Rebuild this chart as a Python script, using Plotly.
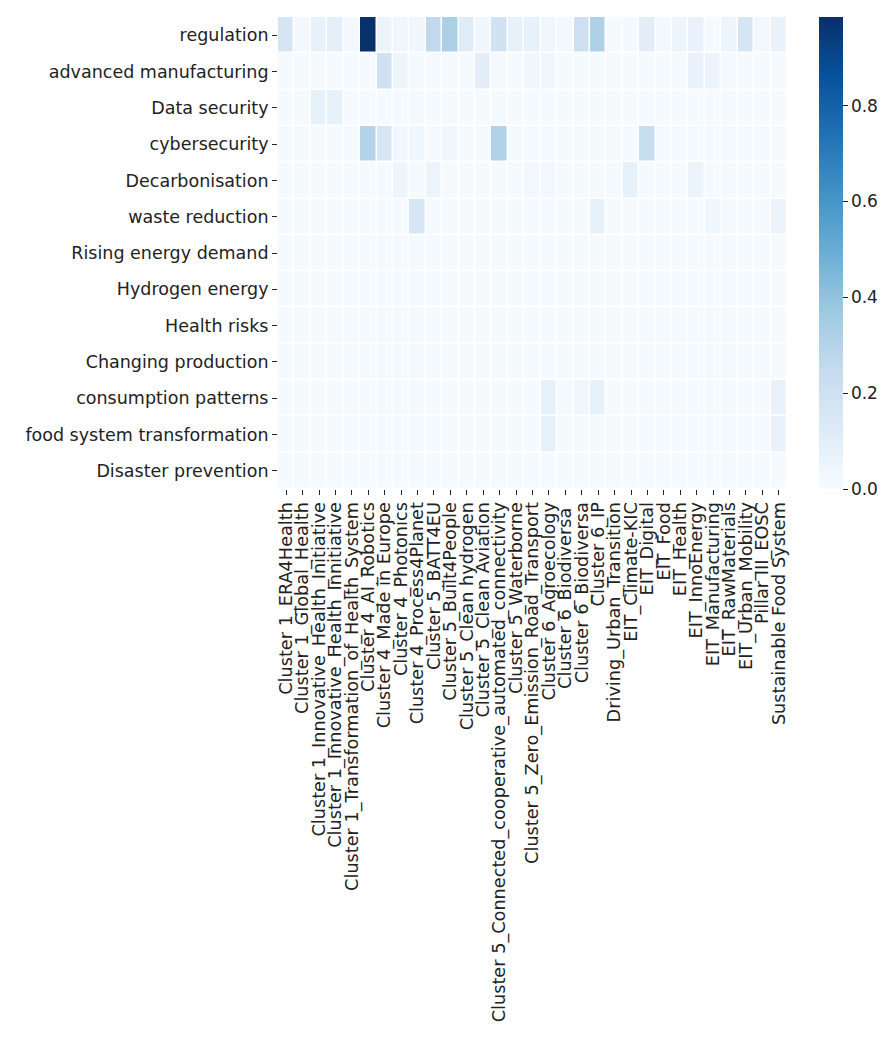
import plotly.graph_objects as go

topics = ["regulation", "advanced manufacturing", "Data security", "cybersecurity",
          "Decarbonisation", "waste reduction", "Rising energy demand", "Hydrogen energy",
          "Health risks", "Changing production", "consumption patterns",
          "food system transformation", "Disaster prevention"]

programmes = ["Cluster 1_ERA4Health", "Cluster 1_Global_Health",
              "Cluster 1_Innovative_Health_Initiative", "Cluster 1_Innovative_Health_Innitiative",
              "Cluster 1_Transformation_of_Health_System", "Cluster 4_AI_Robotics",
              "Cluster 4_Made in Europe", "Cluster 4_Photonics", "Cluster 4_Process4Planet",
              "Cluster 5_BATT4EU", "Cluster 5_Built4People", "Cluster 5_Clean hydrogen",
              "Cluster 5_Clean Aviation", "Cluster 5_Connected_cooperative_automated_connectivity",
              "Cluster 5_Waterborne", "Cluster 5_Zero_Emission_Road_Transport",
              "Cluster 6_Agroecology", "Cluster 6_Biodiversa\u00a0", "Cluster 6_Biodiversa",
              "Cluster 6_IP", "Driving_Urban_Transition", "EIT_Climate-KIC", "EIT_Digital",
              "EIT_Food", "EIT_Health", "EIT_InnoEnergy", "EIT_Manufacturing",
              "EIT_RawMaterials", "EIT_Urban_Mobility", "Pillar III_EOSC",
              "Sustainable Food System"]

regulation = [0.17, 0.02, 0.08, 0.09, 0.02, 0.985, 0.06, 0.04, 0.04, 0.26, 0.33, 0.12, 0.04, 0.19, 0.08, 0.08,
              0.04, 0.02, 0.21, 0.32, 0.01, 0.02, 0.10, 0.02, 0.05, 0.07, 0.01, 0.05, 0.17, 0.03, 0.07]
advanced_manufacturing = [0.01, 0.01, 0.01, 0.01, 0.01, 0.01, 0.20, 0.05, 0.01, 0.01, 0.01, 0.01, 0.10, 0.01, 0.01, 0.04,
                          0.04, 0.01, 0.01, 0.01, 0.01, 0.01, 0.01, 0.01, 0.01, 0.07, 0.06, 0.01, 0.01, 0.01, 0.01]
data_security = [0.01, 0.01, 0.08, 0.08, 0.01, 0.01, 0.01, 0.01, 0.01, 0.01, 0.01, 0.01, 0.01, 0.01, 0.01, 0.01,
                 0.01, 0.01, 0.01, 0.01, 0.01, 0.01, 0.01, 0.01, 0.01, 0.01, 0.01, 0.01, 0.01, 0.01, 0.01]
cybersecurity = [0.01, 0.01, 0.01, 0.01, 0.01, 0.30, 0.17, 0.03, 0.04, 0.01, 0.04, 0.01, 0.01, 0.31, 0.01, 0.01,
                 0.01, 0.01, 0.01, 0.01, 0.01, 0.01, 0.23, 0.01, 0.01, 0.01, 0.01, 0.01, 0.01, 0.01, 0.01]
decarbonisation = [0.01, 0.01, 0.01, 0.01, 0.01, 0.01, 0.01, 0.05, 0.01, 0.05, 0.01, 0.01, 0.01, 0.01, 0.01, 0.03,
                   0.03, 0.01, 0.01, 0.01, 0.01, 0.08, 0.01, 0.01, 0.01, 0.06, 0.01, 0.01, 0.01, 0.01, 0.01]
waste_reduction = [0.01, 0.01, 0.01, 0.01, 0.01, 0.01, 0.01, 0.01, 0.16, 0.01, 0.01, 0.01, 0.01, 0.01, 0.01, 0.01,
                   0.01, 0.01, 0.01, 0.08, 0.01, 0.01, 0.01, 0.01, 0.01, 0.01, 0.04, 0.01, 0.01, 0.01, 0.06]
rising_energy_demand = [0.01] * 31
hydrogen_energy = [0.01] * 31
health_risks = [0.01] * 31
changing_production = [0.01] * 31
consumption_patterns = [0.01, 0.01, 0.01, 0.01, 0.01, 0.01, 0.01, 0.01, 0.01, 0.01, 0.01, 0.01, 0.01, 0.01, 0.01, 0.01,
                        0.08, 0.01, 0.04, 0.08, 0.01, 0.01, 0.01, 0.01, 0.01, 0.01, 0.01, 0.01, 0.01, 0.01, 0.07]
food_system_transformation = [0.01, 0.01, 0.01, 0.01, 0.01, 0.01, 0.01, 0.01, 0.01, 0.01, 0.01, 0.01, 0.01, 0.01, 0.01, 0.01,
                              0.08, 0.01, 0.01, 0.01, 0.01, 0.01, 0.01, 0.01, 0.01, 0.01, 0.01, 0.01, 0.01, 0.01, 0.07]
disaster_prevention = [0.01] * 31

values = [regulation, advanced_manufacturing, data_security, cybersecurity, decarbonisation,
          waste_reduction, rising_energy_demand, hydrogen_energy, health_risks,
          changing_production, consumption_patterns, food_system_transformation,
          disaster_prevention]

colorbar_ticks = [0.0, 0.2, 0.4, 0.6, 0.8]

blues = ["#f7fbff", "#deebf7", "#c6dbef", "#9ecae1", "#6baed6",
         "#4292c6", "#2171b5", "#08519c", "#08306b"]
colorscale = [[i / (len(blues) - 1), c] for i, c in enumerate(blues)]

xs = list(range(len(programmes)))
ys = list(range(len(topics)))

fig = go.Figure(go.Heatmap(
    z=values, x=xs, y=ys,
    colorscale=colorscale, zmin=0, zmax=0.985,
    xgap=1.5, ygap=1.5,
    colorbar=dict(
        x=1.063, xanchor="left", xref="paper", xpad=0, ypad=0,
        y=0.5, yanchor="middle", len=1, lenmode="fraction",
        thickness=24, outlinewidth=0,
        tickvals=colorbar_ticks, ticktext=[f"{v:.1f}" for v in colorbar_ticks],
        ticks="outside", ticklen=5, tickwidth=1.2, tickcolor="#222",
        tickfont=dict(family="DejaVu Sans", size=17, color="#222"),
    ),
    hoverongaps=False,
))

fig.update_layout(
    width=894, height=1039,
    margin=dict(l=270, r=115, t=9, b=558),
    paper_bgcolor="white", plot_bgcolor="white",
    font=dict(family="DejaVu Sans", color="#222"),
)
fig.update_xaxes(
    tickmode="array", tickvals=xs, ticktext=programmes, tickangle=-90,
    ticks="outside", ticklen=5, tickwidth=1.2, tickcolor="#222",
    tickfont=dict(family="DejaVu Sans", size=17.7, color="#222"),
    showgrid=False, zeroline=False, showline=False,
    range=[-0.5, len(programmes) - 0.5],
)
fig.update_yaxes(
    tickmode="array", tickvals=ys, ticktext=topics,
    ticks="outside", ticklen=5, tickwidth=1.2, tickcolor="#222",
    tickfont=dict(family="DejaVu Sans", size=17.5, color="#222"),
    showgrid=False, zeroline=False, showline=False,
    range=[len(topics) - 0.5, -0.5],
)

fig.write_html("out.html")
